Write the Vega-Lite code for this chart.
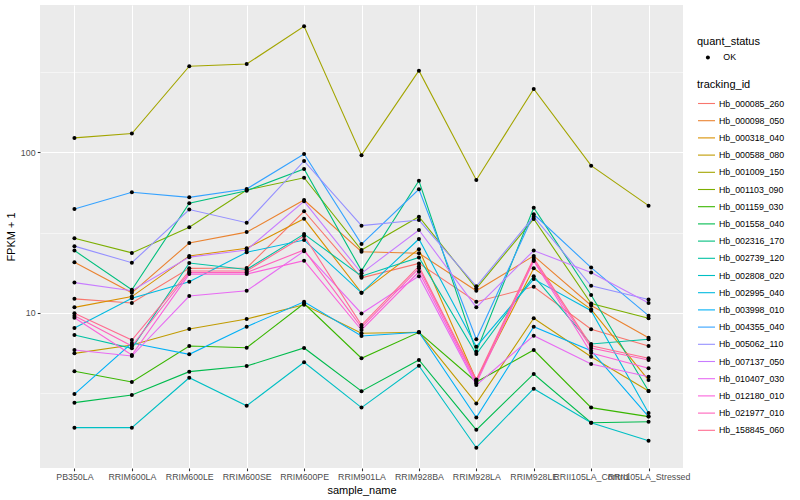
{
"$schema": "https://vega.github.io/schema/vega-lite/v6.json",
"width": 643, "height": 463,
"autosize": {"type": "none"},
"padding": {"left": 40, "top": 5, "right": 117, "bottom": 32},
"background": "white",
"config": {
  "font": "Liberation Sans",
  "view": {"fill": "#EBEBEB", "stroke": null},
  "axis": {"domain": false, "labelColor": "#4D4D4D", "labelFontSize": 8.8, "tickColor": "#333333", "tickSize": 2.74, "tickWidth": 1.07, "titleFontSize": 11, "titleFontWeight": "normal", "titleColor": "black", "gridColor": "white", "gridWidth": 1.07, "gridOpacity": 1, "labelPadding": 2.2},
  "legend": {"labelFontSize": 8.8, "titleFontSize": 11, "titleFontWeight": "normal", "labelColor": "black", "titleColor": "black", "padding": 0}
},
"data": {"values": [
{"tracking_id":"Hb_000085_260","sample_name":"PB350LA","quant_status":"OK","value":12.2},
{"tracking_id":"Hb_000085_260","sample_name":"RRIM600LA","quant_status":"OK","value":11.5},
{"tracking_id":"Hb_000085_260","sample_name":"RRIM600LE","quant_status":"OK","value":18.9},
{"tracking_id":"Hb_000085_260","sample_name":"RRIM600SE","quant_status":"OK","value":19.0},
{"tracking_id":"Hb_000085_260","sample_name":"RRIM600PE","quant_status":"OK","value":42.9},
{"tracking_id":"Hb_000085_260","sample_name":"RRIM901LA","quant_status":"OK","value":16.5},
{"tracking_id":"Hb_000085_260","sample_name":"RRIM928BA","quant_status":"OK","value":20.3},
{"tracking_id":"Hb_000085_260","sample_name":"RRIM928LA","quant_status":"OK","value":11.7},
{"tracking_id":"Hb_000085_260","sample_name":"RRIM928LE","quant_status":"OK","value":14.5},
{"tracking_id":"Hb_000085_260","sample_name":"RRII105LA_Control","quant_status":"OK","value":7.88},
{"tracking_id":"Hb_000085_260","sample_name":"RRII105LA_Stressed","quant_status":"OK","value":6.20},
{"tracking_id":"Hb_000098_050","sample_name":"PB350LA","quant_status":"OK","value":20.6},
{"tracking_id":"Hb_000098_050","sample_name":"RRIM600LA","quant_status":"OK","value":13.3},
{"tracking_id":"Hb_000098_050","sample_name":"RRIM600LE","quant_status":"OK","value":27.2},
{"tracking_id":"Hb_000098_050","sample_name":"RRIM600SE","quant_status":"OK","value":31.8},
{"tracking_id":"Hb_000098_050","sample_name":"RRIM600PE","quant_status":"OK","value":50.4},
{"tracking_id":"Hb_000098_050","sample_name":"RRIM901LA","quant_status":"OK","value":24.0},
{"tracking_id":"Hb_000098_050","sample_name":"RRIM928BA","quant_status":"OK","value":23.5},
{"tracking_id":"Hb_000098_050","sample_name":"RRIM928LA","quant_status":"OK","value":13.7},
{"tracking_id":"Hb_000098_050","sample_name":"RRIM928LE","quant_status":"OK","value":22.6},
{"tracking_id":"Hb_000098_050","sample_name":"RRII105LA_Control","quant_status":"OK","value":11.1},
{"tracking_id":"Hb_000098_050","sample_name":"RRII105LA_Stressed","quant_status":"OK","value":6.98},
{"tracking_id":"Hb_000318_040","sample_name":"PB350LA","quant_status":"OK","value":10.8},
{"tracking_id":"Hb_000318_040","sample_name":"RRIM600LA","quant_status":"OK","value":12.6},
{"tracking_id":"Hb_000318_040","sample_name":"RRIM600LE","quant_status":"OK","value":22.6},
{"tracking_id":"Hb_000318_040","sample_name":"RRIM600SE","quant_status":"OK","value":25.2},
{"tracking_id":"Hb_000318_040","sample_name":"RRIM600PE","quant_status":"OK","value":38.5},
{"tracking_id":"Hb_000318_040","sample_name":"RRIM901LA","quant_status":"OK","value":13.3},
{"tracking_id":"Hb_000318_040","sample_name":"RRIM928BA","quant_status":"OK","value":24.9},
{"tracking_id":"Hb_000318_040","sample_name":"RRIM928LA","quant_status":"OK","value":3.80},
{"tracking_id":"Hb_000318_040","sample_name":"RRIM928LE","quant_status":"OK","value":18.9},
{"tracking_id":"Hb_000318_040","sample_name":"RRII105LA_Control","quant_status":"OK","value":10.5},
{"tracking_id":"Hb_000318_040","sample_name":"RRII105LA_Stressed","quant_status":"OK","value":3.80},
{"tracking_id":"Hb_000588_080","sample_name":"PB350LA","quant_status":"OK","value":5.58},
{"tracking_id":"Hb_000588_080","sample_name":"RRIM600LA","quant_status":"OK","value":6.29},
{"tracking_id":"Hb_000588_080","sample_name":"RRIM600LE","quant_status":"OK","value":7.91},
{"tracking_id":"Hb_000588_080","sample_name":"RRIM600SE","quant_status":"OK","value":9.14},
{"tracking_id":"Hb_000588_080","sample_name":"RRIM600PE","quant_status":"OK","value":11.2},
{"tracking_id":"Hb_000588_080","sample_name":"RRIM901LA","quant_status":"OK","value":7.44},
{"tracking_id":"Hb_000588_080","sample_name":"RRIM928BA","quant_status":"OK","value":7.55},
{"tracking_id":"Hb_000588_080","sample_name":"RRIM928LA","quant_status":"OK","value":2.72},
{"tracking_id":"Hb_000588_080","sample_name":"RRIM928LE","quant_status":"OK","value":9.23},
{"tracking_id":"Hb_000588_080","sample_name":"RRII105LA_Control","quant_status":"OK","value":5.32},
{"tracking_id":"Hb_000588_080","sample_name":"RRII105LA_Stressed","quant_status":"OK","value":3.25},
{"tracking_id":"Hb_001009_150","sample_name":"PB350LA","quant_status":"OK","value":123},
{"tracking_id":"Hb_001009_150","sample_name":"RRIM600LA","quant_status":"OK","value":131},
{"tracking_id":"Hb_001009_150","sample_name":"RRIM600LE","quant_status":"OK","value":344},
{"tracking_id":"Hb_001009_150","sample_name":"RRIM600SE","quant_status":"OK","value":355},
{"tracking_id":"Hb_001009_150","sample_name":"RRIM600PE","quant_status":"OK","value":610},
{"tracking_id":"Hb_001009_150","sample_name":"RRIM901LA","quant_status":"OK","value":96},
{"tracking_id":"Hb_001009_150","sample_name":"RRIM928BA","quant_status":"OK","value":323},
{"tracking_id":"Hb_001009_150","sample_name":"RRIM928LA","quant_status":"OK","value":67.2},
{"tracking_id":"Hb_001009_150","sample_name":"RRIM928LE","quant_status":"OK","value":248},
{"tracking_id":"Hb_001009_150","sample_name":"RRII105LA_Control","quant_status":"OK","value":82.5},
{"tracking_id":"Hb_001009_150","sample_name":"RRII105LA_Stressed","quant_status":"OK","value":46.5},
{"tracking_id":"Hb_001103_090","sample_name":"PB350LA","quant_status":"OK","value":29.1},
{"tracking_id":"Hb_001103_090","sample_name":"RRIM600LA","quant_status":"OK","value":23.6},
{"tracking_id":"Hb_001103_090","sample_name":"RRIM600LE","quant_status":"OK","value":34.1},
{"tracking_id":"Hb_001103_090","sample_name":"RRIM600SE","quant_status":"OK","value":58.2},
{"tracking_id":"Hb_001103_090","sample_name":"RRIM600PE","quant_status":"OK","value":69.4},
{"tracking_id":"Hb_001103_090","sample_name":"RRIM901LA","quant_status":"OK","value":24.6},
{"tracking_id":"Hb_001103_090","sample_name":"RRIM928BA","quant_status":"OK","value":39.7},
{"tracking_id":"Hb_001103_090","sample_name":"RRIM928LA","quant_status":"OK","value":14.2},
{"tracking_id":"Hb_001103_090","sample_name":"RRIM928LE","quant_status":"OK","value":38.4},
{"tracking_id":"Hb_001103_090","sample_name":"RRII105LA_Control","quant_status":"OK","value":11.4},
{"tracking_id":"Hb_001103_090","sample_name":"RRII105LA_Stressed","quant_status":"OK","value":9.23},
{"tracking_id":"Hb_001159_030","sample_name":"PB350LA","quant_status":"OK","value":4.31},
{"tracking_id":"Hb_001159_030","sample_name":"RRIM600LA","quant_status":"OK","value":3.70},
{"tracking_id":"Hb_001159_030","sample_name":"RRIM600LE","quant_status":"OK","value":6.20},
{"tracking_id":"Hb_001159_030","sample_name":"RRIM600SE","quant_status":"OK","value":6.05},
{"tracking_id":"Hb_001159_030","sample_name":"RRIM600PE","quant_status":"OK","value":11.4},
{"tracking_id":"Hb_001159_030","sample_name":"RRIM901LA","quant_status":"OK","value":5.20},
{"tracking_id":"Hb_001159_030","sample_name":"RRIM928BA","quant_status":"OK","value":7.55},
{"tracking_id":"Hb_001159_030","sample_name":"RRIM928LA","quant_status":"OK","value":3.70},
{"tracking_id":"Hb_001159_030","sample_name":"RRIM928LE","quant_status":"OK","value":5.85},
{"tracking_id":"Hb_001159_030","sample_name":"RRII105LA_Control","quant_status":"OK","value":2.56},
{"tracking_id":"Hb_001159_030","sample_name":"RRII105LA_Stressed","quant_status":"OK","value":2.25},
{"tracking_id":"Hb_001558_040","sample_name":"PB350LA","quant_status":"OK","value":2.75},
{"tracking_id":"Hb_001558_040","sample_name":"RRIM600LA","quant_status":"OK","value":3.07},
{"tracking_id":"Hb_001558_040","sample_name":"RRIM600LE","quant_status":"OK","value":4.29},
{"tracking_id":"Hb_001558_040","sample_name":"RRIM600SE","quant_status":"OK","value":4.65},
{"tracking_id":"Hb_001558_040","sample_name":"RRIM600PE","quant_status":"OK","value":6.03},
{"tracking_id":"Hb_001558_040","sample_name":"RRIM901LA","quant_status":"OK","value":3.24},
{"tracking_id":"Hb_001558_040","sample_name":"RRIM928BA","quant_status":"OK","value":5.07},
{"tracking_id":"Hb_001558_040","sample_name":"RRIM928LA","quant_status":"OK","value":1.86},
{"tracking_id":"Hb_001558_040","sample_name":"RRIM928LE","quant_status":"OK","value":4.15},
{"tracking_id":"Hb_001558_040","sample_name":"RRII105LA_Control","quant_status":"OK","value":2.06},
{"tracking_id":"Hb_001558_040","sample_name":"RRII105LA_Stressed","quant_status":"OK","value":2.09},
{"tracking_id":"Hb_002316_170","sample_name":"PB350LA","quant_status":"OK","value":24.4},
{"tracking_id":"Hb_002316_170","sample_name":"RRIM600LA","quant_status":"OK","value":13.9},
{"tracking_id":"Hb_002316_170","sample_name":"RRIM600LE","quant_status":"OK","value":48.1},
{"tracking_id":"Hb_002316_170","sample_name":"RRIM600SE","quant_status":"OK","value":57.6},
{"tracking_id":"Hb_002316_170","sample_name":"RRIM600PE","quant_status":"OK","value":78.7},
{"tracking_id":"Hb_002316_170","sample_name":"RRIM901LA","quant_status":"OK","value":18.3},
{"tracking_id":"Hb_002316_170","sample_name":"RRIM928BA","quant_status":"OK","value":66.5},
{"tracking_id":"Hb_002316_170","sample_name":"RRIM928LA","quant_status":"OK","value":5.71},
{"tracking_id":"Hb_002316_170","sample_name":"RRIM928LE","quant_status":"OK","value":45.1},
{"tracking_id":"Hb_002316_170","sample_name":"RRII105LA_Control","quant_status":"OK","value":12.9},
{"tracking_id":"Hb_002316_170","sample_name":"RRII105LA_Stressed","quant_status":"OK","value":3.25},
{"tracking_id":"Hb_002739_120","sample_name":"PB350LA","quant_status":"OK","value":7.26},
{"tracking_id":"Hb_002739_120","sample_name":"RRIM600LA","quant_status":"OK","value":6.00},
{"tracking_id":"Hb_002739_120","sample_name":"RRIM600LE","quant_status":"OK","value":20.4},
{"tracking_id":"Hb_002739_120","sample_name":"RRIM600SE","quant_status":"OK","value":18.6},
{"tracking_id":"Hb_002739_120","sample_name":"RRIM600PE","quant_status":"OK","value":30.9},
{"tracking_id":"Hb_002739_120","sample_name":"RRIM901LA","quant_status":"OK","value":16.9},
{"tracking_id":"Hb_002739_120","sample_name":"RRIM928BA","quant_status":"OK","value":22.1},
{"tracking_id":"Hb_002739_120","sample_name":"RRIM928LA","quant_status":"OK","value":5.53},
{"tracking_id":"Hb_002739_120","sample_name":"RRIM928LE","quant_status":"OK","value":16.9},
{"tracking_id":"Hb_002739_120","sample_name":"RRII105LA_Control","quant_status":"OK","value":6.38},
{"tracking_id":"Hb_002739_120","sample_name":"RRII105LA_Stressed","quant_status":"OK","value":6.83},
{"tracking_id":"Hb_002808_020","sample_name":"PB350LA","quant_status":"OK","value":1.92},
{"tracking_id":"Hb_002808_020","sample_name":"RRIM600LA","quant_status":"OK","value":1.92},
{"tracking_id":"Hb_002808_020","sample_name":"RRIM600LE","quant_status":"OK","value":3.93},
{"tracking_id":"Hb_002808_020","sample_name":"RRIM600SE","quant_status":"OK","value":2.63},
{"tracking_id":"Hb_002808_020","sample_name":"RRIM600PE","quant_status":"OK","value":4.91},
{"tracking_id":"Hb_002808_020","sample_name":"RRIM901LA","quant_status":"OK","value":2.56},
{"tracking_id":"Hb_002808_020","sample_name":"RRIM928BA","quant_status":"OK","value":4.67},
{"tracking_id":"Hb_002808_020","sample_name":"RRIM928LA","quant_status":"OK","value":1.44},
{"tracking_id":"Hb_002808_020","sample_name":"RRIM928LE","quant_status":"OK","value":3.36},
{"tracking_id":"Hb_002808_020","sample_name":"RRII105LA_Control","quant_status":"OK","value":2.06},
{"tracking_id":"Hb_002808_020","sample_name":"RRII105LA_Stressed","quant_status":"OK","value":1.59},
{"tracking_id":"Hb_002995_040","sample_name":"PB350LA","quant_status":"OK","value":8.03},
{"tracking_id":"Hb_002995_040","sample_name":"RRIM600LA","quant_status":"OK","value":12.3},
{"tracking_id":"Hb_002995_040","sample_name":"RRIM600LE","quant_status":"OK","value":15.6},
{"tracking_id":"Hb_002995_040","sample_name":"RRIM600SE","quant_status":"OK","value":23.8},
{"tracking_id":"Hb_002995_040","sample_name":"RRIM600PE","quant_status":"OK","value":28.4},
{"tracking_id":"Hb_002995_040","sample_name":"RRIM901LA","quant_status":"OK","value":13.3},
{"tracking_id":"Hb_002995_040","sample_name":"RRIM928BA","quant_status":"OK","value":28.8},
{"tracking_id":"Hb_002995_040","sample_name":"RRIM928LA","quant_status":"OK","value":6.14},
{"tracking_id":"Hb_002995_040","sample_name":"RRIM928LE","quant_status":"OK","value":16.2},
{"tracking_id":"Hb_002995_040","sample_name":"RRII105LA_Control","quant_status":"OK","value":10.3},
{"tracking_id":"Hb_002995_040","sample_name":"RRII105LA_Stressed","quant_status":"OK","value":2.37},
{"tracking_id":"Hb_003998_010","sample_name":"PB350LA","quant_status":"OK","value":3.11},
{"tracking_id":"Hb_003998_010","sample_name":"RRIM600LA","quant_status":"OK","value":6.47},
{"tracking_id":"Hb_003998_010","sample_name":"RRIM600LE","quant_status":"OK","value":5.50},
{"tracking_id":"Hb_003998_010","sample_name":"RRIM600SE","quant_status":"OK","value":8.18},
{"tracking_id":"Hb_003998_010","sample_name":"RRIM600PE","quant_status":"OK","value":11.7},
{"tracking_id":"Hb_003998_010","sample_name":"RRIM901LA","quant_status":"OK","value":7.16},
{"tracking_id":"Hb_003998_010","sample_name":"RRIM928BA","quant_status":"OK","value":7.55},
{"tracking_id":"Hb_003998_010","sample_name":"RRIM928LA","quant_status":"OK","value":2.22},
{"tracking_id":"Hb_003998_010","sample_name":"RRIM928LE","quant_status":"OK","value":8.18},
{"tracking_id":"Hb_003998_010","sample_name":"RRII105LA_Control","quant_status":"OK","value":5.80},
{"tracking_id":"Hb_003998_010","sample_name":"RRII105LA_Stressed","quant_status":"OK","value":2.25},
{"tracking_id":"Hb_004355_040","sample_name":"PB350LA","quant_status":"OK","value":44.3},
{"tracking_id":"Hb_004355_040","sample_name":"RRIM600LA","quant_status":"OK","value":56.3},
{"tracking_id":"Hb_004355_040","sample_name":"RRIM600LE","quant_status":"OK","value":52.4},
{"tracking_id":"Hb_004355_040","sample_name":"RRIM600SE","quant_status":"OK","value":59.1},
{"tracking_id":"Hb_004355_040","sample_name":"RRIM600PE","quant_status":"OK","value":97.6},
{"tracking_id":"Hb_004355_040","sample_name":"RRIM901LA","quant_status":"OK","value":26.8},
{"tracking_id":"Hb_004355_040","sample_name":"RRIM928BA","quant_status":"OK","value":58.8},
{"tracking_id":"Hb_004355_040","sample_name":"RRIM928LA","quant_status":"OK","value":6.83},
{"tracking_id":"Hb_004355_040","sample_name":"RRIM928LE","quant_status":"OK","value":41.1},
{"tracking_id":"Hb_004355_040","sample_name":"RRII105LA_Control","quant_status":"OK","value":19.1},
{"tracking_id":"Hb_004355_040","sample_name":"RRII105LA_Stressed","quant_status":"OK","value":9.58},
{"tracking_id":"Hb_005062_110","sample_name":"PB350LA","quant_status":"OK","value":26.0},
{"tracking_id":"Hb_005062_110","sample_name":"RRIM600LA","quant_status":"OK","value":20.5},
{"tracking_id":"Hb_005062_110","sample_name":"RRIM600LE","quant_status":"OK","value":44.0},
{"tracking_id":"Hb_005062_110","sample_name":"RRIM600SE","quant_status":"OK","value":36.4},
{"tracking_id":"Hb_005062_110","sample_name":"RRIM600PE","quant_status":"OK","value":88.3},
{"tracking_id":"Hb_005062_110","sample_name":"RRIM901LA","quant_status":"OK","value":34.9},
{"tracking_id":"Hb_005062_110","sample_name":"RRIM928BA","quant_status":"OK","value":37.8},
{"tracking_id":"Hb_005062_110","sample_name":"RRIM928LA","quant_status":"OK","value":14.6},
{"tracking_id":"Hb_005062_110","sample_name":"RRIM928LE","quant_status":"OK","value":39.7},
{"tracking_id":"Hb_005062_110","sample_name":"RRII105LA_Control","quant_status":"OK","value":14.7},
{"tracking_id":"Hb_005062_110","sample_name":"RRII105LA_Stressed","quant_status":"OK","value":12.1},
{"tracking_id":"Hb_007137_050","sample_name":"PB350LA","quant_status":"OK","value":15.4},
{"tracking_id":"Hb_007137_050","sample_name":"RRIM600LA","quant_status":"OK","value":13.7},
{"tracking_id":"Hb_007137_050","sample_name":"RRIM600LE","quant_status":"OK","value":22.2},
{"tracking_id":"Hb_007137_050","sample_name":"RRIM600SE","quant_status":"OK","value":24.6},
{"tracking_id":"Hb_007137_050","sample_name":"RRIM600PE","quant_status":"OK","value":49.5},
{"tracking_id":"Hb_007137_050","sample_name":"RRIM901LA","quant_status":"OK","value":17.6},
{"tracking_id":"Hb_007137_050","sample_name":"RRIM928BA","quant_status":"OK","value":32.8},
{"tracking_id":"Hb_007137_050","sample_name":"RRIM928LA","quant_status":"OK","value":10.8},
{"tracking_id":"Hb_007137_050","sample_name":"RRIM928LE","quant_status":"OK","value":24.4},
{"tracking_id":"Hb_007137_050","sample_name":"RRII105LA_Control","quant_status":"OK","value":17.8},
{"tracking_id":"Hb_007137_050","sample_name":"RRII105LA_Stressed","quant_status":"OK","value":11.5},
{"tracking_id":"Hb_010407_030","sample_name":"PB350LA","quant_status":"OK","value":5.85},
{"tracking_id":"Hb_010407_030","sample_name":"RRIM600LA","quant_status":"OK","value":5.37},
{"tracking_id":"Hb_010407_030","sample_name":"RRIM600LE","quant_status":"OK","value":12.7},
{"tracking_id":"Hb_010407_030","sample_name":"RRIM600SE","quant_status":"OK","value":13.7},
{"tracking_id":"Hb_010407_030","sample_name":"RRIM600PE","quant_status":"OK","value":24.2},
{"tracking_id":"Hb_010407_030","sample_name":"RRIM901LA","quant_status":"OK","value":9.89},
{"tracking_id":"Hb_010407_030","sample_name":"RRIM928BA","quant_status":"OK","value":16.9},
{"tracking_id":"Hb_010407_030","sample_name":"RRIM928LA","quant_status":"OK","value":3.54},
{"tracking_id":"Hb_010407_030","sample_name":"RRIM928LE","quant_status":"OK","value":7.19},
{"tracking_id":"Hb_010407_030","sample_name":"RRII105LA_Control","quant_status":"OK","value":4.79},
{"tracking_id":"Hb_010407_030","sample_name":"RRII105LA_Stressed","quant_status":"OK","value":3.99},
{"tracking_id":"Hb_012180_010","sample_name":"PB350LA","quant_status":"OK","value":9.31},
{"tracking_id":"Hb_012180_010","sample_name":"RRIM600LA","quant_status":"OK","value":5.45},
{"tracking_id":"Hb_012180_010","sample_name":"RRIM600LE","quant_status":"OK","value":17.4},
{"tracking_id":"Hb_012180_010","sample_name":"RRIM600SE","quant_status":"OK","value":17.4},
{"tracking_id":"Hb_012180_010","sample_name":"RRIM600PE","quant_status":"OK","value":21.1},
{"tracking_id":"Hb_012180_010","sample_name":"RRIM901LA","quant_status":"OK","value":7.80},
{"tracking_id":"Hb_012180_010","sample_name":"RRIM928BA","quant_status":"OK","value":18.0},
{"tracking_id":"Hb_012180_010","sample_name":"RRIM928LA","quant_status":"OK","value":3.63},
{"tracking_id":"Hb_012180_010","sample_name":"RRIM928LE","quant_status":"OK","value":21.0},
{"tracking_id":"Hb_012180_010","sample_name":"RRII105LA_Control","quant_status":"OK","value":5.61},
{"tracking_id":"Hb_012180_010","sample_name":"RRII105LA_Stressed","quant_status":"OK","value":4.50},
{"tracking_id":"Hb_021977_010","sample_name":"PB350LA","quant_status":"OK","value":9.58},
{"tracking_id":"Hb_021977_010","sample_name":"RRIM600LA","quant_status":"OK","value":6.20},
{"tracking_id":"Hb_021977_010","sample_name":"RRIM600LE","quant_status":"OK","value":17.8},
{"tracking_id":"Hb_021977_010","sample_name":"RRIM600SE","quant_status":"OK","value":17.8},
{"tracking_id":"Hb_021977_010","sample_name":"RRIM600PE","quant_status":"OK","value":24.6},
{"tracking_id":"Hb_021977_010","sample_name":"RRIM901LA","quant_status":"OK","value":8.11},
{"tracking_id":"Hb_021977_010","sample_name":"RRIM928BA","quant_status":"OK","value":18.9},
{"tracking_id":"Hb_021977_010","sample_name":"RRIM928LA","quant_status":"OK","value":3.75},
{"tracking_id":"Hb_021977_010","sample_name":"RRIM928LE","quant_status":"OK","value":21.3},
{"tracking_id":"Hb_021977_010","sample_name":"RRII105LA_Control","quant_status":"OK","value":6.03},
{"tracking_id":"Hb_021977_010","sample_name":"RRII105LA_Stressed","quant_status":"OK","value":5.07},
{"tracking_id":"Hb_158845_060","sample_name":"PB350LA","quant_status":"OK","value":9.91},
{"tracking_id":"Hb_158845_060","sample_name":"RRIM600LA","quant_status":"OK","value":6.76},
{"tracking_id":"Hb_158845_060","sample_name":"RRIM600LE","quant_status":"OK","value":18.2},
{"tracking_id":"Hb_158845_060","sample_name":"RRIM600SE","quant_status":"OK","value":18.2},
{"tracking_id":"Hb_158845_060","sample_name":"RRIM600PE","quant_status":"OK","value":30.1},
{"tracking_id":"Hb_158845_060","sample_name":"RRIM901LA","quant_status":"OK","value":8.38},
{"tracking_id":"Hb_158845_060","sample_name":"RRIM928BA","quant_status":"OK","value":19.5},
{"tracking_id":"Hb_158845_060","sample_name":"RRIM928LA","quant_status":"OK","value":3.84},
{"tracking_id":"Hb_158845_060","sample_name":"RRIM928LE","quant_status":"OK","value":21.9},
{"tracking_id":"Hb_158845_060","sample_name":"RRII105LA_Control","quant_status":"OK","value":6.23},
{"tracking_id":"Hb_158845_060","sample_name":"RRII105LA_Stressed","quant_status":"OK","value":5.20}
]},
"encoding": {
  "x": {"field": "sample_name", "type": "nominal",
        "sort": ["PB350LA","RRIM600LA","RRIM600LE","RRIM600SE","RRIM600PE","RRIM901LA","RRIM928BA","RRIM928LA","RRIM928LE","RRII105LA_Control","RRII105LA_Stressed"],
        "scale": {"type": "point", "padding": 0.6},
        "axis": {"title": "sample_name", "labelAngle": 0, "labelOverlap": false, "labelBound": false, "grid": true, "titlePadding": 3}}
},
"layer": [
  {"mark": {"type": "line", "strokeWidth": 1.1},
   "encoding": {
     "y": {"field": "value", "type": "quantitative",
           "scale": {"type": "log", "domain": [1.076, 828.6], "nice": false, "zero": false},
           "axis": {"orient": "left", "values": [3.1623, 31.623, 316.23], "labels": false, "ticks": false, "title": null, "grid": true, "gridWidth": 0.53}},
     "color": {"field": "tracking_id", "type": "nominal",
               "scale": {"range": ["#F8766D","#EA8331","#D89000","#C09B00","#A3A500","#7CAE00","#39B600","#00BB4E","#00BF7D","#00C1A3","#00BFC4","#00BAE0","#00B0F6","#35A2FF","#9590FF","#C77CFF","#E76BF3","#FA62DB","#FF62BC","#FF6C91"]},
               "legend": {"title": "tracking_id", "orient": "none", "legendX": 657, "legendY": 74, "symbolType": "stroke", "symbolSize": 289, "symbolStrokeWidth": 1.1, "rowPadding": 2.2, "titlePadding": 4, "labelOffset": 3}}
   }},
  {"mark": {"type": "point", "filled": true, "color": "black", "opacity": 1, "size": 16},
   "encoding": {
     "y": {"field": "value", "type": "quantitative",
           "scale": {"type": "log", "domain": [1.076, 828.6], "nice": false, "zero": false},
           "axis": {"orient": "left", "values": [10, 100], "format": "d", "title": "FPKM + 1", "grid": true, "titlePadding": 4}},
     "shape": {"field": "quant_status", "type": "nominal", "scale": {"range": ["circle"]},
               "legend": {"title": "quant_status", "orient": "none", "legendX": 657, "legendY": 31, "symbolSize": 16, "symbolFillColor": "black", "symbolStrokeColor": "black", "symbolOffset": 6.5, "labelOffset": 11, "titlePadding": 6}}
   }}
],
"resolve": {"axis": {"y": "independent"}}
}
